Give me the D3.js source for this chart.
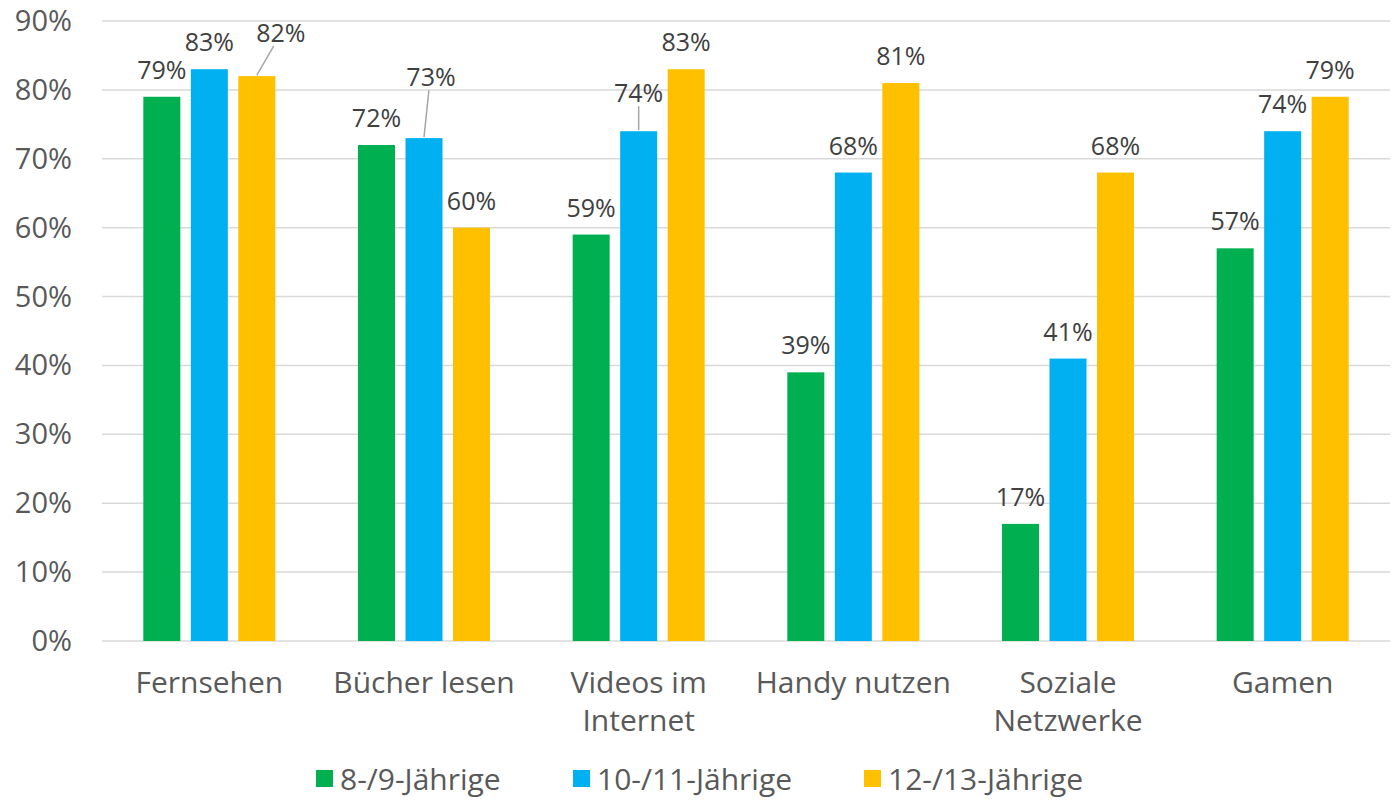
<!DOCTYPE html>
<html>
<head>
<meta charset="utf-8">
<script src="https://cdn.jsdelivr.net/npm/d3@7"></script>
<style>
  body { margin: 0; background: #fff; }
  text { font-family: "Open Sans", "Noto Sans", sans-serif; }
</style>
</head>
<body>
<script>
var categories = ["Fernsehen", "Bücher lesen", "Videos im Internet", "Handy nutzen", "Soziale Netzwerke", "Gamen"];
var seriesNames = ["8-/9-Jährige", "10-/11-Jährige", "12-/13-Jährige"];
var kids8 = [79, 72, 59, 39, 17, 57];
var kids10 = [83, 73, 74, 68, 41, 74];
var kids12 = [82, 60, 83, 81, 68, 79];
var yTicks = [0, 10, 20, 30, 40, 50, 60, 70, 80, 90];

var colors = ["#00B050", "#00B0F0", "#FFC000"];
// labels that were moved by hand in the original, with a leader line
var moved = {"0-2": [24, -16], "1-1": [7, -34], "2-1": [0, -11]};

function init() {
  var W = 1395, H = 800,
      left = 102, right = 1390, top = 21, bottom = 641;

  var svg = d3.select("body").append("svg")
    .attr("width", W)
    .attr("height", H);

  var series = [kids8, kids10, kids12];

  var y = d3.scaleLinear().domain([0, 90]).range([bottom, top]);
  var x0 = d3.scaleBand().domain(categories).range([left, right]);
  var x1 = d3.scaleBand().domain([0, 1, 2]).range([0, x0.bandwidth()])
    .paddingInner(0.221).paddingOuter(0.87);

  // gridlines
  svg.append("g").selectAll("line").data(yTicks).join("line")
    .attr("x1", left).attr("x2", right)
    .attr("y1", function (d) { return y(d); })
    .attr("y2", function (d) { return y(d); })
    .attr("stroke", "#d9d9d9")
    .attr("stroke-width", 1.5);

  svg.append("g").selectAll("text").data(yTicks).join("text")
    .attr("x", 72)
    .attr("y", function (d) { return y(d) + 10; })
    .attr("text-anchor", "end")
    .attr("font-size", 29)
    .attr("fill", "#595959")
    .text(function (d) { return d + "%"; });

  var cells = [];
  series.forEach(function (vals, s) {
    vals.forEach(function (v, i) {
      cells.push({s: s, i: i, v: v});
    });
  });

  svg.append("g").selectAll("rect").data(cells).join("rect")
    .attr("x", function (d) { return x0(categories[d.i]) + x1(d.s); })
    .attr("y", function (d) { return y(d.v); })
    .attr("width", x1.bandwidth())
    .attr("height", function (d) { return y(0) - y(d.v); })
    .attr("fill", function (d) { return colors[d.s]; });

  // data labels
  var lab = svg.append("g");
  cells.forEach(function (d) {
    var cx = x0(categories[d.i]) + x1(d.s) + x1.bandwidth() / 2,
        ty = y(d.v),
        off = moved[d.i + "-" + d.s] || [0, 0],
        lx = cx + off[0], ly = ty - 18 + off[1];
    if (moved[d.i + "-" + d.s]) {
      lab.append("line")
        .attr("x1", cx).attr("y1", ty - 1)
        .attr("x2", lx - off[0] * 0.3).attr("y2", ly + 4)
        .attr("stroke", "#a6a6a6")
        .attr("stroke-width", 1.5);
    }
    lab.append("text")
      .attr("x", lx).attr("y", ly)
      .attr("text-anchor", "middle")
      .attr("font-size", 25)
      .attr("fill", "#404040")
      .text(d.v + "%");
  });

  // category labels, wrapped like the original
  var cat = svg.append("g");
  categories.forEach(function (c) {
    var t = cat.append("text")
      .attr("x", x0(c) + x0.bandwidth() / 2)
      .attr("y", 693)
      .attr("text-anchor", "middle")
      .attr("font-size", 30)
      .attr("fill", "#595959")
      .text(c);
    if (t.node().getComputedTextLength() > 215) {
      var words = c.split(" ");
      t.text(null);
      t.append("tspan").attr("x", x0(c) + x0.bandwidth() / 2).text(words.slice(0, -1).join(" "));
      t.append("tspan").attr("x", x0(c) + x0.bandwidth() / 2).attr("dy", 38).text(words[words.length - 1]);
    }
  });

  // legend
  var legX = [316, 573, 864];
  var leg = svg.append("g");
  seriesNames.forEach(function (n, s) {
    leg.append("rect")
      .attr("x", legX[s]).attr("y", 770)
      .attr("width", 17).attr("height", 17)
      .attr("fill", colors[s]);
    leg.append("text")
      .attr("x", legX[s] + 24).attr("y", 790)
      .attr("font-size", 30)
      .attr("fill", "#595959")
      .text(n);
  });
}

init();
</script>
</body>
</html>
